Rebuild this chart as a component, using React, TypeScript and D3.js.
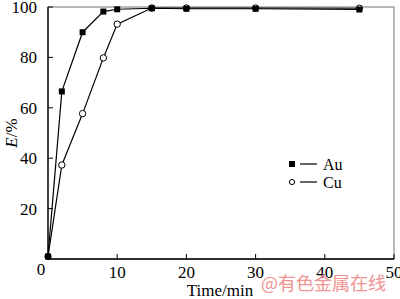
import React from "react";
import * as d3 from "d3";

const times = [0, 2, 5, 8, 10, 15, 20, 30, 45];
const auValues = [1, 66.5, 90, 98.2, 99.1, 99.5, 99.3, 99.3, 99.0];
const cuValues = [1, 37.3, 57.7, 79.8, 93.2, 99.6, 99.6, 99.6, 99.5];
const xTicks = [10, 20, 30, 40, 50];
const yTicks = [20, 40, 60, 80, 100];

export default function App() {
  const W = 400, H = 299;
  const L = 48, R = 394, T = 7, B = 259;
  const x = d3.scaleLinear().domain([0, 50]).range([L, R]);
  const y = d3.scaleLinear().domain([0, 100]).range([B, T]);
  const line = d3.line<number>().x((_, i) => x(times[i])).y((d) => y(d));
  const font = "'Liberation Serif', 'Times New Roman', serif";
  return (
    <svg width={W} height={H} style={{ position: "absolute", left: 0, top: 0, background: "#fff" }}>
      <rect x={L} y={T} width={R - L} height={B - T} fill="none" stroke="#777" strokeWidth={1} />
      <line x1={L} y1={B} x2={R} y2={B} stroke="#000" strokeWidth={1.3} />
      <line x1={L} y1={T} x2={L} y2={B} stroke="#000" strokeWidth={1.3} />
      {xTicks.map((t) => (
        <g key={"x" + t}>
          <line x1={x(t)} x2={x(t)} y1={B} y2={B - 5} stroke="#000" strokeWidth={1} />
          <text x={x(t)} y={B + 19} fontSize={17} fontFamily={font} textAnchor="middle">{t}</text>
        </g>
      ))}
      <text x={41} y={B + 16} fontSize={17} fontFamily={font} textAnchor="middle">0</text>
      {yTicks.map((t) => (
        <g key={"y" + t}>
          <line x1={L} x2={L + 5} y1={y(t)} y2={y(t)} stroke="#000" strokeWidth={1} />
          <text x={L - 11} y={y(t) + 6} fontSize={17} fontFamily={font} textAnchor="end">{t}</text>
        </g>
      ))}
      <text x={220} y={296} fontSize={17} fontFamily={font} textAnchor="middle">Time/min</text>
      <text transform={`translate(17,${(T + B) / 2}) rotate(-90)`} fontSize={17} fontFamily={font} textAnchor="middle">
        <tspan fontStyle="italic">E</tspan>/%
      </text>
      <path d={line(auValues) || ""} fill="none" stroke="#000" strokeWidth={1.2} />
      <path d={line(cuValues) || ""} fill="none" stroke="#000" strokeWidth={1.2} />
      {cuValues.map((v, i) => (
        <circle key={"c" + i} cx={x(times[i])} cy={y(v)} r={3.2} fill="#fff" stroke="#000" strokeWidth={1} />
      ))}
      {auValues.map((v, i) => (
        <rect key={"a" + i} x={x(times[i]) - 3} y={y(v) - 3} width={6} height={6} fill="#000" />
      ))}
      <rect x={289} y={161} width={6} height={6} fill="#000" />
      <line x1={300} x2={317} y1={164} y2={164} stroke="#000" strokeWidth={1.2} />
      <text x={323} y={169.5} fontSize={16} fontFamily={font}>Au</text>
      <circle cx={292} cy={182} r={2.6} fill="#fff" stroke="#000" strokeWidth={1} />
      <line x1={300} x2={317} y1={182} y2={182} stroke="#000" strokeWidth={1.2} />
      <text x={323} y={187.5} fontSize={16} fontFamily={font}>Cu</text>
      <text x={261} y={290} fontSize={18} fontFamily="'Noto Sans CJK SC', sans-serif" fill="#ee8888" opacity={0.9}>@有色金属在线</text>
    </svg>
  );
}
